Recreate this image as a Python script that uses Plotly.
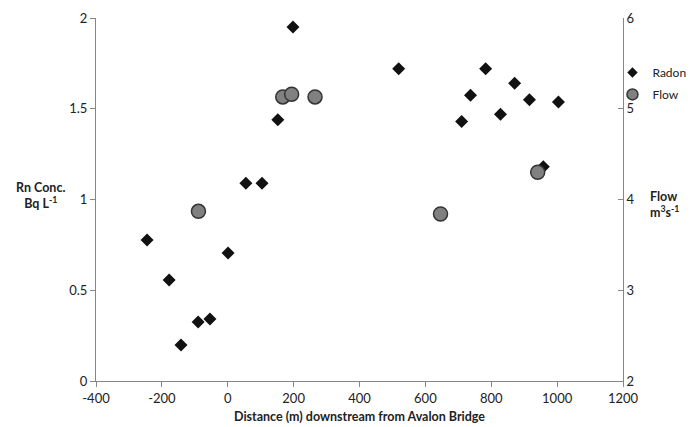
import plotly.graph_objects as go

radon_x = [-245, -178, -142, -90, -54, 1, 55, 104, 152, 198, 519, 710, 737, 783, 828, 871, 916, 958, 1004]
radon_y = [0.777, 0.556, 0.198, 0.325, 0.342, 0.705, 1.09, 1.09, 1.44, 1.95, 1.72, 1.43, 1.575, 1.72, 1.47, 1.64, 1.55, 1.18, 1.537]

flow_x = [-89, 167, 194, 265, 646, 941]
flow_y = [3.87, 5.13, 5.16, 5.13, 3.84, 4.30]

x_ticks = [-400, -200, 0, 200, 400, 600, 800, 1000, 1200]
x_ticktext = ["-400", "-200", "0", "200", "400", "600", "800", "1000", "1200"]
y_ticks = [0, 0.5, 1, 1.5, 2]
y_ticktext = ["0", "0.5", "1", "1.5", "2"]
y2_ticks = [2, 3, 4, 5, 6]

FONT = "Lato, 'Liberation Sans', sans-serif"
AX = "#868686"
DIAMOND = dict(symbol="diamond", color="#111111", line=dict(width=0))
CIRCLE = dict(symbol="circle", color="#808080", line=dict(width=1.5, color="#333333"))

fig = go.Figure()
fig.add_trace(go.Scatter(x=radon_x, y=radon_y, mode="markers", name="Radon",
                         marker=dict(size=10, **DIAMOND), yaxis="y", showlegend=False))
fig.add_trace(go.Scatter(x=flow_x, y=flow_y, mode="markers", name="Flow",
                         marker=dict(size=14, **CIRCLE), yaxis="y2", showlegend=False))
# legend entries (smaller symbols, as in the reference)
fig.add_trace(go.Scatter(x=[None], y=[None], mode="markers", name="Radon",
                         marker=dict(size=8, **DIAMOND), legendgroup="a"))
fig.add_trace(go.Scatter(x=[None], y=[None], mode="markers", name="Flow",
                         marker=dict(size=11, **CIRCLE), legendgroup="b"))

fig.update_layout(
    width=700, height=427,
    margin=dict(l=96, r=77, t=18, b=46, pad=0, autoexpand=False),
    paper_bgcolor="white", plot_bgcolor="white",
    font=dict(family=FONT, size=12, color="#222222"),
    showlegend=True,
    legend=dict(x=0.98, y=0.89, xanchor="left", yanchor="top",
                bgcolor="rgba(0,0,0,0)", font=dict(size=12, color="#222222"),
                itemsizing="trace", tracegroupgap=3),
    xaxis=dict(range=[-400, 1200], tickvals=x_ticks, ticktext=x_ticktext,
               showgrid=False, zeroline=False, showline=True, linecolor=AX, linewidth=1,
               ticks="outside", ticklen=5, tickcolor=AX, tickfont=dict(size=13)),
    yaxis=dict(range=[0, 2], tickvals=y_ticks, ticktext=y_ticktext,
               showgrid=False, zeroline=False, showline=True, linecolor=AX, linewidth=1,
               ticks="outside", ticklen=5, tickcolor=AX, tickfont=dict(size=13)),
    yaxis2=dict(range=[2, 6], tickvals=y2_ticks, overlaying="y", side="right",
                showgrid=False, zeroline=False, showline=True, linecolor=AX, linewidth=1,
                ticks="inside", ticklen=5, tickcolor=AX, tickfont=dict(size=13)),
    annotations=[
        dict(text="<b>Distance (m) downstream from Avalon Bridge</b>", x=0.5, y=-0.097,
             xref="paper", yref="paper", xanchor="center", yanchor="middle",
             showarrow=False, font=dict(size=12.5)),
        dict(text="<b>Rn Conc.<br>Bq L<sup>-1</sup></b>", x=-0.106, y=0.51,
             xref="paper", yref="paper", xanchor="center", yanchor="middle",
             showarrow=False, font=dict(size=12.5)),
        dict(text="<b>Flow<br>m<sup>3</sup>s<sup>-1</sup></b>", x=1.048, y=0.485,
             xref="paper", yref="paper", xanchor="left", yanchor="middle", align="left",
             showarrow=False, font=dict(size=12.5)),
    ],
)

fig.write_html("out.html")
